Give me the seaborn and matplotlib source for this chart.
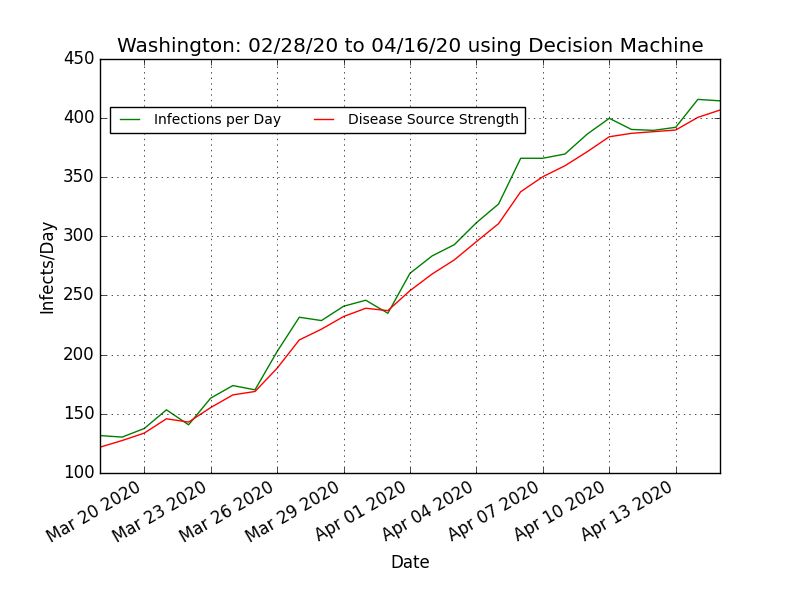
import pandas as pd
import seaborn as sns
import matplotlib
matplotlib.use("Agg")
import matplotlib.pyplot as plt
import matplotlib.dates as mdates

# data
dates = pd.date_range("2020-03-18", "2020-04-15", freq="D")
infections = [131.5, 130.2, 137.5, 153.3, 140.6, 163.2, 173.8, 170.2, 202.6, 231.6,
              228.8, 240.9, 246.0, 235.0, 268.8, 283.5, 293.0, 311.6, 327.4, 366.1,
              366.1, 369.7, 386.5, 399.9, 390.5, 389.7, 392.3, 415.9, 414.7]
source = [121.7, 127.3, 133.6, 145.7, 142.9, 155.2, 165.9, 168.8, 188.5, 212.4,
          221.5, 232.2, 239.2, 237.2, 254.1, 268.2, 280.1, 295.6, 310.8, 337.8,
          350.5, 359.8, 371.6, 384.3, 387.2, 388.6, 390.0, 400.7, 406.9]
tick_dates = pd.date_range("2020-03-20", "2020-04-13", freq="3D")

df = pd.DataFrame({"date": dates, "inf": infections, "src": source})

plt.style.use("classic")
fig, ax = plt.subplots(figsize=(8, 5.91), dpi=100)

sns.lineplot(data=df, x="date", y="inf", color="g", lw=1, ax=ax, label="Infections per Day")
sns.lineplot(data=df, x="date", y="src", color="r", lw=1, ax=ax, label="Disease Source Strength")

ax.set_xlim(dates[0], dates[-1])
ax.set_ylim(100, 450)
ax.set_xticks(tick_dates)
ax.xaxis.set_major_formatter(mdates.DateFormatter("%b %d %Y"))
ax.grid(True)
ax.set_title("Washington: 02/28/20 to 04/16/20 using Decision Machine")
ax.set_xlabel("Date")
ax.set_ylabel("Infects/Day")
ax.legend(loc="upper left", bbox_to_anchor=(0.005, 0.9), ncol=2, fontsize=10)

fig.autofmt_xdate()
fig.savefig("out.png", dpi=100)
